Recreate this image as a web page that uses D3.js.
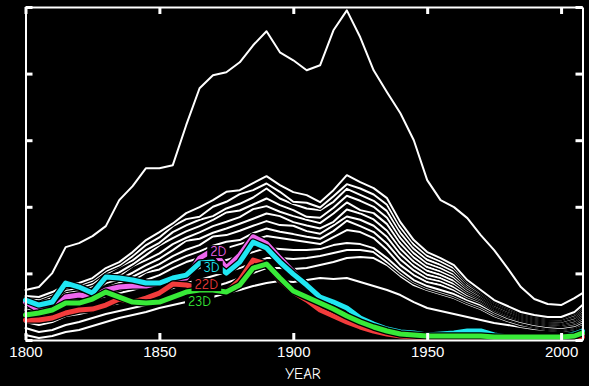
<!DOCTYPE html>
<html>
<head>
<meta charset="utf-8">
<script src="https://cdn.jsdelivr.net/npm/d3@7"></script>
<style>
  html, body { margin: 0; padding: 0; background: #000; }
  svg { display: block; font-family: "Humor Sans", "Comic Neue", Lato, sans-serif; }
</style>
</head>
<body>
<div id="chart"></div>
<script>
/*
    --- data (5 year steps)
*/
var years = [1800,1805,1810,1815,1820,1825,1830,1835,1840,1845,
             1850,1855,1860,1865,1870,1875,1880,1885,1890,1895,
             1900,1905,1910,1915,1920,1925,1930,1935,1940,1945,
             1950,1955,1960,1965,1970,1975,1980,1985,1990,1995,
             2000,2005,2008];

var xTicks = [1800, 1850, 1900, 1950, 2000];
var yTicks = [0, 20, 40, 60, 80, 100];

//the big line on top
var whiteTop = [15,15.9,20.1,27.9,29.1,31.2,34.2,42,46.2,51.6,
  51.6,52.5,64.5,75.6,79.5,80.4,83.4,88.5,92.7,86.4,
  84,81,82.5,93,99,90.9,81,74.4,68.1,60,
  48,42,39.9,36.6,31.5,27,21.6,15.9,12.3,10.8,
  10.5,12.6,14.1];

//the dense bundle
var whiteA1 = [13.2,12.9,14.4,16.5,17.1,18.6,21.6,23.4,26.4,30,
  32.4,35,38.1,39.9,42,44.5,45,47.1,49.2,46.5,
  44.4,43.5,41.4,45,49.5,47.4,45.6,42.6,35.4,30,
  26.4,24.6,22.5,18,15,12,10.2,8.4,7.5,6.9,
  6.9,8.4,10.5];
var whiteA2 = [12.6,12.2,13.7,15.8,16.4,17.8,20.7,22.4,25.2,28.5,
  30.8,34.2,36.3,37,40,41.5,43.8,45,47,44.5,
  41.5,41.2,39.8,43.2,46.8,45.5,43.7,40.6,33.8,28.7,
  25.3,23.6,21.6,17.4,14.6,11.6,9.8,8.1,7.2,6.6,
  6.6,8,9.9];
var whiteA3 = [12,11.5,12.9,15,15.6,16.9,19.8,22,23.9,27,
  29.2,32.4,34.4,36.1,37.2,39.5,40.9,42.8,45.5,42.5,
  40.8,39.5,39,41.5,45.4,43.6,41.8,38.7,32.2,27.4,
  24.1,22.6,20.6,16.7,14.1,11.2,9.4,7.8,6.9,6.3,
  6.2,7.5,9.4];
var whiteA4 = [11.4,10.8,12.2,14.3,14.9,16.1,18.9,20.3,22.7,25.5,
  28.4,30.6,32.6,34.2,36.1,38.3,38.9,40.7,42.5,40.5,
  39,37,36.7,39.7,43.3,41.8,40,36.7,30.6,26.1,
  23,21.6,19.7,16.1,13.7,10.9,9.1,7.5,6.6,6,
  5.9,7.1,8.8];
var whiteA5 = [10.8,10.1,11.4,13.5,14.1,15.3,18,19.2,22.2,24,
  26,28.8,30.7,32.3,34.2,35.5,36.9,39.3,40.2,38.5,
  37.2,36.1,35.1,38,41.3,39,38.1,34.8,29,24.8,
  21.9,20.6,18.8,15.5,13.2,10.5,8.7,7.2,6.3,5.7,
  5.5,6.6,8.3];
var whiteA6 = [10.2,9.3,10.7,12.8,13.4,14.5,17.1,18.2,20.2,22.5,
  24.4,27,29.8,30.4,32.2,33.5,34.9,36.4,38,37.2,
  35.4,34.4,33.5,35.5,39.2,38,36.2,32.8,27.4,23.5,
  20.8,19.6,17.8,14.8,12.8,10.1,8.3,6.9,6,5.4,
  5.2,6.2,7.7];
var whiteA7 = [9.6,8.6,9.9,12,12.6,13.6,15.6,17.1,19,21,
  22.8,25.2,27.1,28.5,31.1,31.5,32.8,34.3,35.7,34.5,
  34.3,32.7,31.9,34.4,37.1,36.1,34.3,30.9,25.8,22.2,
  19.6,18.6,16.9,14.2,12.3,9.8,8,6.6,5.7,5.1,
  4.9,5.7,7.2];
var whiteA8 = [9,7.9,9.2,11.3,11.9,12.8,15.3,16.1,17.7,20.3,
  21.2,23.4,25.2,26.6,28.3,29.5,30,32.1,33.5,32.5,
  31.8,31,30.4,32.7,35.8,34.2,32.4,28.9,24.2,20.9,
  18.5,17.6,15.9,13.5,11.9,9.4,7.6,6.3,5.4,4.8,
  4.5,5.3,6.6];
var whiteA9 = [8.4,7.2,8.4,10.5,11.1,12,14.4,15,16.5,18,
  19.5,21.6,23.4,24.6,26.4,27.6,28.8,30,31.2,30.6,
  30,29.4,28.8,30.9,33,32.4,30.6,27,22.5,19.5,
  17.4,16.5,15,12.9,11.4,9,7.2,6,5.1,4.5,
  4.2,4.8,6];

//lines that start low and join the bundle later
var whiteB1 = [9,8.1,9,10.8,11.4,12,13.2,14.1,15,16.2,
  17.4,18.6,20.4,21.6,22.8,24,25.2,26.4,27.6,27.3,
  27,27,27.3,28.5,29.1,28.8,27.6,24.6,21,18,
  16.2,15,13.8,12,10.5,8.4,6.6,5.4,4.5,3.9,
  3.6,4.2,5.4];
var whiteB2 = [5.4,4.5,5.4,7.2,7.8,8.7,10.2,11.1,12,13.2,
  14.4,15.6,17.1,18,19.2,20.4,21.6,23.1,24.6,24.6,
  24.3,24.6,25.2,26.1,27,27,26.4,23.4,20.1,17.4,
  15.6,14.4,13.2,11.4,9.9,7.8,6.3,5.1,4.2,3.6,
  3.3,3.9,4.8];
var whiteB3 = [3.6,2.4,3,4.5,5.4,6.6,7.8,8.7,9.6,10.5,
  12,12.9,14.1,15,15.9,17.1,18.6,20.1,21.6,21.6,
  21.3,21.6,22.5,23.4,24.6,24.9,24.6,22.5,19.2,16.5,
  15,13.8,12.6,10.8,9.3,7.2,5.7,4.5,3.9,3.3,
  3,3.6,4.5];
var whiteC = [1.5,0.6,1.2,2.4,3,4.2,5.4,6.6,7.5,8.4,
  9.6,10.5,11.4,12,12.9,14.1,15,16.2,17.1,17.7,
  17.4,18,18.6,18.3,18.6,17.4,16.2,15,13.5,11.4,
  9.6,8.7,7.8,6.9,6,5.1,4.5,3.9,3.3,3,
  2.7,3,3.9];

//highlighted series
var d2 = [11.4,9,9,12.9,13.5,12.9,15,15.9,16.2,16.2,
  17.1,18.3,18.6,24.6,27,21.6,25.5,31,29,24.6,
  20.4,16.2,12.9,11.4,9.3,6.6,4.5,3,2.1,1.8,
  1.2,1.2,1.5,1.5,1.2,0.9,0.6,0.6,0.6,0.6,
  0.6,1.2,1.8];
var d3s = [12,10.5,11.4,17.1,15.9,14.1,18.9,18.6,18,17.1,
  17.1,18.6,19.5,23.1,23.4,20.1,23.4,29.4,27.6,23.4,
  19.8,16.5,12.9,11.4,9.6,6.6,4.8,3.3,2.4,2.1,
  1.5,1.8,2.1,2.7,2.7,1.5,0.9,0.6,0.6,0.6,
  0.9,1.8,2.7];
var d22 = [6,6,6.6,8.1,9,9.3,10.5,12.3,11.4,12.6,
  14.1,16.8,16.5,15.6,15,14.4,18,24,22.8,18,
  14.4,12,9,7.2,5.4,3.9,2.7,1.8,1.2,0.9,
  0.6,0.6,0.6,0.6,0.6,0.6,0.6,0.6,0.6,0.6,
  0.6,0.6,0.9];
var d23 = [7.5,8.1,9,11.1,11.1,12.3,14.4,12.9,11.4,11.1,
  11.4,12.9,14.4,15,15,14.4,16.5,21.6,22.8,18.6,
  14.7,12.9,11.1,9.3,7.2,5.4,3.9,2.7,1.8,1.5,
  1.2,1.2,1.2,1.2,1.2,0.9,0.9,0.9,0.9,0.9,
  0.9,1.2,2.1];

var colorNames = ["2D", "3D", "22D", "23D"];
var colorValues = [d2, d3s, d22, d23];
var colors = ["#ee66ee", "#1fe6f2", "#f23c3c", "#38ea38"];

//where the inline labels sit
var labelYears = [1872, 1869.5, 1867.5, 1865];
var labelValues = [26.7, 21.9, 16.8, 11.7];

var whiteLines = [whiteC, whiteB3, whiteB2, whiteB1,
  whiteA9, whiteA8, whiteA7, whiteA6, whiteA5, whiteA4, whiteA3, whiteA2, whiteA1,
  whiteTop];

/*
    --- drawing
*/
var width = 589, height = 386;

var svg = d3.select('#chart').append('svg')
  .attr('width', width)
  .attr('height', height)
  .style('background', '#000');

var x = d3.scaleLinear().domain([1800, 2008]).range([25.5, 582.5]);
var y = d3.scaleLinear().domain([0, 100]).range([340, 7]);

var line = d3.line()
  .x(function(d, i) { return x(years[i]); })
  .y(function(d) { return y(d); });

var plot = svg.append('g');

//every line gets a black halo underneath, like the xkcd style
var drawLine = function(values, color, w) {
  plot.append('path')
    .attr('d', line(values))
    .attr('fill', 'none')
    .attr('stroke', '#000')
    .attr('stroke-width', w + 2.6)
    .attr('stroke-linejoin', 'round');
  plot.append('path')
    .attr('d', line(values))
    .attr('fill', 'none')
    .attr('stroke', color)
    .attr('stroke-width', w)
    .attr('stroke-linejoin', 'round')
    .attr('stroke-linecap', 'round');
};

whiteLines.forEach(function(v) { drawLine(v, '#fff', 2); });
colorValues.forEach(function(v, i) { drawLine(v, colors[i], 5); });

//inline labels with a black box behind them
colorNames.forEach(function(name, i) {
  var g = svg.append('g');
  var t = g.append('text')
    .attr('x', x(labelYears[i]))
    .attr('y', y(labelValues[i]))
    .attr('dy', '0.36em')
    .attr('text-anchor', 'middle')
    .attr('font-size', 14)
    .attr('fill', colors[i])
    .text(name);
  var b = t.node().getBBox();
  g.insert('rect', 'text')
    .attr('x', b.x - 3)
    .attr('y', b.y + 2)
    .attr('width', b.width + 6)
    .attr('height', b.height - 4)
    .attr('fill', '#000');
});

//axes on all four sides, ticks pointing in
var styleAxis = function(g) {
  g.select('.domain').attr('stroke', '#fff').attr('stroke-width', 2);
  g.selectAll('.tick line').attr('stroke', '#fff').attr('stroke-width', 3);
  g.selectAll('.tick text').attr('fill', '#fff').attr('font-size', 15);
};

svg.append('g')
  .attr('transform', 'translate(0,340)')
  .call(d3.axisBottom(x).tickValues(xTicks).tickFormat(d3.format('d'))
    .tickSizeInner(-7).tickSizeOuter(0).tickPadding(6))
  .call(styleAxis);

svg.append('g')
  .attr('transform', 'translate(0,7)')
  .call(d3.axisTop(x).tickValues(xTicks).tickFormat('')
    .tickSizeInner(-7).tickSizeOuter(0))
  .call(styleAxis);

svg.append('g')
  .attr('transform', 'translate(25.5,0)')
  .call(d3.axisLeft(y).tickValues(yTicks).tickFormat('')
    .tickSizeInner(-7).tickSizeOuter(0))
  .call(styleAxis);

svg.append('g')
  .attr('transform', 'translate(582.5,0)')
  .call(d3.axisRight(y).tickValues(yTicks).tickFormat('')
    .tickSizeInner(-7).tickSizeOuter(0))
  .call(styleAxis);

svg.append('text')
  .attr('x', 303)
  .attr('y', 379)
  .attr('text-anchor', 'middle')
  .attr('font-size', 15)
  .attr('fill', '#fff')
  .text('YEAR');
</script>
</body>
</html>
